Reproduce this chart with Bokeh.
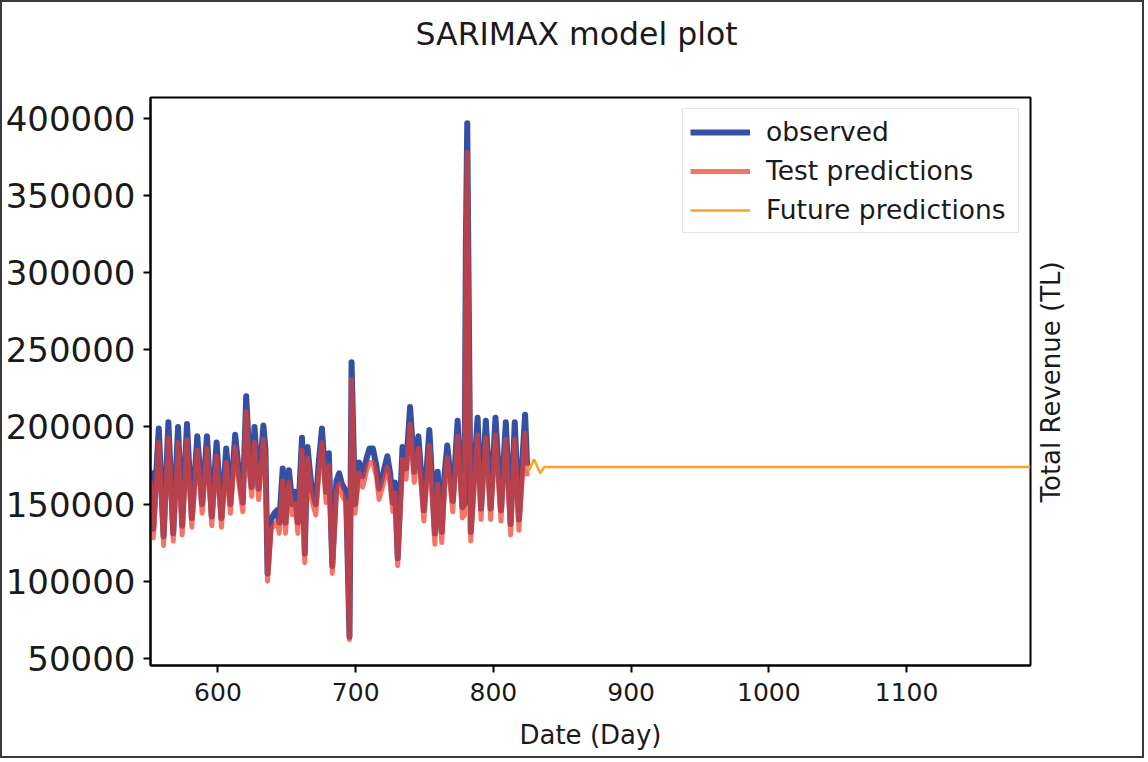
import math
from bokeh.plotting import figure
from bokeh.models import Range1d, FixedTicker, Legend, LegendItem, LinearAxis, Title
from bokeh.embed import file_html
from bokeh.resources import INLINE

# ---- data ----
obs_day = [551, 553, 557, 560.5, 564, 567.5, 571, 574, 577.5, 581, 585, 588.5, 592, 595.5, 599,
           602.5, 606, 609, 612.5, 615, 618, 620.5, 623, 624.5, 626.5, 629.5, 633, 634.5, 636,
           638.5, 641, 643, 644.5, 647, 649, 651.5, 654, 656, 658, 661, 663, 665, 668, 671, 673,
           675.5, 678.5, 680.5, 683, 686, 688, 690, 693, 695.5, 697, 699.5, 702.5, 705, 708, 710,
           712.5, 715, 717, 720, 723, 725, 727, 728.5, 730.5, 734, 736.5, 739.5, 742.5, 745.5,
           749.5, 753.5, 757.5, 759.5, 762.5, 764.5, 766.5, 770.5, 774, 777.5, 779, 780, 781,
           783.5, 788.5, 791, 794.5, 798, 801.5, 805.5, 809, 812.5, 815.5, 818.5, 823, 824.5]
obs_val = [172000, 134000, 199000, 129000, 203000, 131000, 200000, 136000, 202000, 141000,
           194000, 150000, 194000, 142000, 190000, 141000, 186000, 150000, 195000, 172000,
           151000, 220000, 175000, 161000, 200000, 160000, 201000, 185000, 105000, 140000,
           144000, 146000, 138000, 173000, 138000, 172000, 150000, 158000, 138000, 193000,
           118000, 187000, 160000, 150000, 175000, 199000, 158000, 183000, 110000, 165000,
           170000, 163000, 158000, 64000, 242000, 150000, 177000, 168000, 180000, 186000,
           186000, 175000, 160000, 170000, 181000, 170000, 151000, 164000, 115000, 187000,
           173000, 213000, 171000, 194000, 146000, 198000, 131000, 171000, 132000, 169000,
           188000, 152000, 204000, 148000, 150000, 320000, 397000, 132000, 206000, 147000,
           204000, 147000, 206000, 146000, 203000, 137000, 203000, 140000, 208000, 175000]

test_day = obs_day
test_val = [165000, 128000, 190000, 123000, 193000, 126000, 190000, 130000, 192000, 135000,
            185000, 144000, 186000, 136000, 181000, 135000, 177000, 144000, 187000, 165000,
            145000, 210000, 168000, 155000, 190000, 153000, 192000, 178000, 100000, 133000,
            137000, 139000, 131000, 165000, 131000, 164000, 143000, 150000, 131000, 185000,
            112000, 180000, 153000, 143000, 167000, 190000, 151000, 175000, 105000, 158000,
            163000, 156000, 151000, 62000, 231000, 144000, 170000, 161000, 172000, 177000,
            177000, 168000, 153000, 163000, 174000, 163000, 145000, 157000, 110000, 179000,
            166000, 202000, 164000, 186000, 139000, 188000, 124000, 163000, 125000, 161000,
            180000, 145000, 194000, 141000, 143000, 300000, 378000, 126000, 195000, 140000,
            193000, 140000, 195000, 139000, 192000, 130000, 192000, 133000, 196000, 168000]

future_day = [824.5, 826, 829.5, 834, 837, 1190]
future_val = [174000, 172000, 179000, 170000, 174000, 174000]

x_ticks = [600, 700, 800, 900, 1000, 1100]
y_ticks = [50000, 100000, 150000, 200000, 250000, 300000, 350000, 400000]

FONT = "DejaVu Sans"
TXT = "#1a1a1a"
X0, X1 = 551, 1190
Y0, Y1 = 45300, 413700
# anchor (start) of the rotated right-hand label, chosen so the text is centred on the frame
LABEL_Y = Y0 + (Y1 - Y0) * 0.287

p = figure(width=1144, height=758, output_backend="svg", toolbar_location=None,
           x_range=Range1d(X0, X1), y_range=Range1d(Y0, Y1),
           min_border_left=148, min_border_right=116, min_border_top=95, min_border_bottom=95,
           title=None)
p.styles = {"border": "2px solid #3a3a3a"}

# spacer between frame and title, then the title itself
spacer = Title(text=" ", text_font_size="2px", standoff=42, text_color="white")
p.add_layout(spacer, "above")
title = Title(text="SARIMAX model plot", align="left", offset=265, standoff=0,
              text_font=FONT, text_font_size="31.5px", text_font_style="normal",
              text_color=TXT)
p.add_layout(title, "above")

p.grid.visible = False
p.outline_line_color = "black"
p.outline_line_width = 2
p.background_fill_color = "white"
p.border_fill_color = "white"

for ax in (p.xaxis[0], p.yaxis[0]):
    ax.axis_line_width = 2
    ax.major_tick_line_width = 2
    ax.major_tick_out = 7
    ax.major_tick_in = 0
    ax.minor_tick_line_color = None
    ax.major_label_text_font = FONT
    ax.major_label_text_color = TXT
    ax.axis_label_text_font = FONT
    ax.axis_label_text_font_size = "26px"
    ax.axis_label_text_font_style = "normal"
    ax.axis_label_text_color = TXT

p.xaxis.major_label_text_font_size = "25px"
p.xaxis.major_label_standoff = 10
p.yaxis.major_label_text_font_size = "34px"
p.yaxis.major_label_standoff = 8

p.xaxis.ticker = FixedTicker(ticks=x_ticks)
p.yaxis.ticker = FixedTicker(ticks=y_ticks)
p.yaxis.formatter.use_scientific = False
p.xaxis.axis_label = "Date (Day)"
p.xaxis.axis_label_standoff = 16

# right-hand axis title, drawn as a single rotated tick label
right = LinearAxis(ticker=FixedTicker(ticks=[LABEL_Y]),
                   major_label_overrides={LABEL_Y: "Total Revenue (TL)"})
right.axis_line_color = None
right.major_tick_line_color = None
right.major_tick_out = 0
right.major_tick_in = 0
right.minor_tick_line_color = None
right.major_label_text_font = FONT
right.major_label_text_font_size = "26px"
right.major_label_text_color = TXT
right.major_label_standoff = 21
right.major_label_orientation = math.pi / 2
p.add_layout(right, "right")

r_obs = p.line(obs_day, obs_val, line_color="#3550a3", line_width=6, line_join="round")
r_test = p.line(test_day, test_val, line_color="#f03a28", line_width=5, line_alpha=0.7,
                line_join="round")
r_fut = p.line(future_day, future_val, line_color="#f5a52a", line_width=2.5)

legend = Legend(items=[LegendItem(label="observed", renderers=[r_obs]),
                       LegendItem(label="Test predictions", renderers=[r_test]),
                       LegendItem(label="Future predictions", renderers=[r_fut])],
                location="top_right")
legend.label_text_font = FONT
legend.label_text_font_size = "26.5px"
legend.label_text_color = TXT
legend.label_width = 245
legend.glyph_width = 60
legend.glyph_height = 28
legend.spacing = 8
legend.padding = 7
legend.margin = 11
legend.label_standoff = 16
legend.border_line_color = "#cccccc"
legend.border_line_width = 1.5
legend.background_fill_alpha = 0.8
p.add_layout(legend)

open("out.html", "w").write(file_html(p, INLINE))
